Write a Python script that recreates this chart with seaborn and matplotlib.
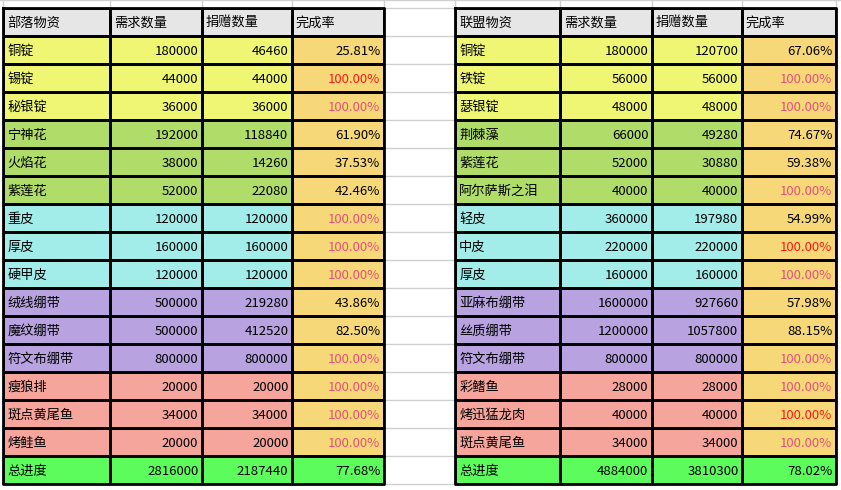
import matplotlib
matplotlib.use("Agg")
import matplotlib.pyplot as plt
import seaborn as sns
import numpy as np
from matplotlib.colors import ListedColormap

headers_l = ["部落物资", "需求数量", "捐赠数量", "完成率"]
items_l = ["铜锭", "锡锭", "秘银锭", "宁神花", "火焰花", "紫莲花", "重皮", "厚皮", "硬甲皮",
           "绒线绷带", "魔纹绷带", "符文布绷带", "瘦狼排", "斑点黄尾鱼", "烤鲑鱼", "总进度"]
need_l = [180000, 44000, 36000, 192000, 38000, 52000, 120000, 160000, 120000,
          500000, 500000, 800000, 20000, 34000, 20000, 2816000]
give_l = [46460, 44000, 36000, 118840, 14260, 22080, 120000, 160000, 120000,
          219280, 412520, 800000, 20000, 34000, 20000, 2187440]
rate_l = ["25.81%", "100.00%", "100.00%", "61.90%", "37.53%", "42.46%", "100.00%", "100.00%", "100.00%",
          "43.86%", "82.50%", "100.00%", "100.00%", "100.00%", "100.00%", "77.68%"]
red_l = [1]  # rows with pure red 100%

headers_r = ["联盟物资", "需求数量", "捐赠数量", "完成率"]
items_r = ["铜锭", "铁锭", "瑟银锭", "荆棘藻", "紫莲花", "阿尔萨斯之泪", "轻皮", "中皮", "厚皮",
           "亚麻布绷带", "丝质绷带", "符文布绷带", "彩鳍鱼", "烤迅猛龙肉", "斑点黄尾鱼", "总进度"]
need_r = [180000, 56000, 48000, 66000, 52000, 40000, 360000, 220000, 160000,
          1600000, 1200000, 800000, 28000, 40000, 34000, 4884000]
give_r = [120700, 56000, 48000, 49280, 30880, 40000, 197980, 220000, 160000,
          927660, 1057800, 800000, 28000, 40000, 34000, 3810300]
rate_r = ["67.06%", "100.00%", "100.00%", "74.67%", "59.38%", "100.00%", "54.99%", "100.00%", "100.00%",
          "57.98%", "88.15%", "100.00%", "100.00%", "100.00%", "100.00%", "78.02%"]
red_r = [7, 13]

groups = [1, 1, 1, 2, 2, 2, 3, 3, 3, 4, 4, 4, 5, 5, 5, 6]
palette = ["#e6e6e6", "#eef674", "#b0dc6a", "#a2ecea", "#b8a2e0", "#f5a59c", "#5cfc5c", "#f6d878"]
cmap = ListedColormap(palette)

W, H = 841, 490
fig = plt.figure(figsize=(W / 100, H / 100), dpi=100)
plt.rcParams['font.family'] = ['Noto Sans CJK SC', 'DejaVu Sans']

# background gridlines
bg = fig.add_axes([0, 0, 1, 1])
bg.set_xlim(0, W); bg.set_ylim(H, 0); bg.axis("off")
ys = [8, 36] + [36 + 28 * (i + 1) for i in range(15)] + [484]
for y in ys:
    bg.plot([384, 455], [y, y], color="#d0d0d0", lw=1)
for x in [3, 110, 202, 292, 384, 455, 560, 652, 742, 836]:
    bg.plot([x, x], [0, 8], color="#d0d0d0", lw=1)
bg.plot([0, W], [0, 0], color="#d0d0d0", lw=1)

top, bottom = 8, 484
fs = 9.5

def draw_table(x_edges, headers, items, need, give, rate, reds):
    cols = [items, [str(v) for v in need], [str(v) for v in give], rate]
    for c in range(4):
        x0, x1 = x_edges[c], x_edges[c + 1]
        ax = fig.add_axes([x0 / W, (H - bottom) / H, (x1 - x0) / W, (bottom - top) / H])
        vals = [0] + [(7 if (c == 3 and g != 6) else g) for g in groups]
        sns.heatmap(np.array(vals).reshape(-1, 1), ax=ax, cmap=cmap, vmin=-0.5, vmax=7.5,
                    cbar=False, linewidths=0.8, linecolor="black", xticklabels=False, yticklabels=False)
        texts = [headers[c]] + cols[c]
        for r, t in enumerate(texts):
            color = "black"
            if c == 3 and r > 0 and t == "100.00%":
                color = "#ff1a1a" if (r - 1) in reds else "#e8507a"
            if c == 0 or r == 0:
                ax.text(0.04, r + 0.55, t, ha="left", va="center", fontsize=fs, color=color)
            else:
                ax.text(0.96, r + 0.55, t, ha="right", va="center", fontsize=fs, color=color)
        for s in ax.spines.values():
            s.set_visible(False)
    # outer border
    bg.plot([x_edges[0], x_edges[-1], x_edges[-1], x_edges[0], x_edges[0]],
            [top, top, bottom, bottom, top], color="black", lw=2, zorder=10)

draw_table([3, 110, 202, 292, 384], headers_l, items_l, need_l, give_l, rate_l, red_l)
draw_table([455, 560, 652, 742, 836], headers_r, items_r, need_r, give_r, rate_r, red_r)
# bring border axis on top
bg.set_zorder(10); bg.patch.set_alpha(0)

fig.savefig("out.png", dpi=100)
